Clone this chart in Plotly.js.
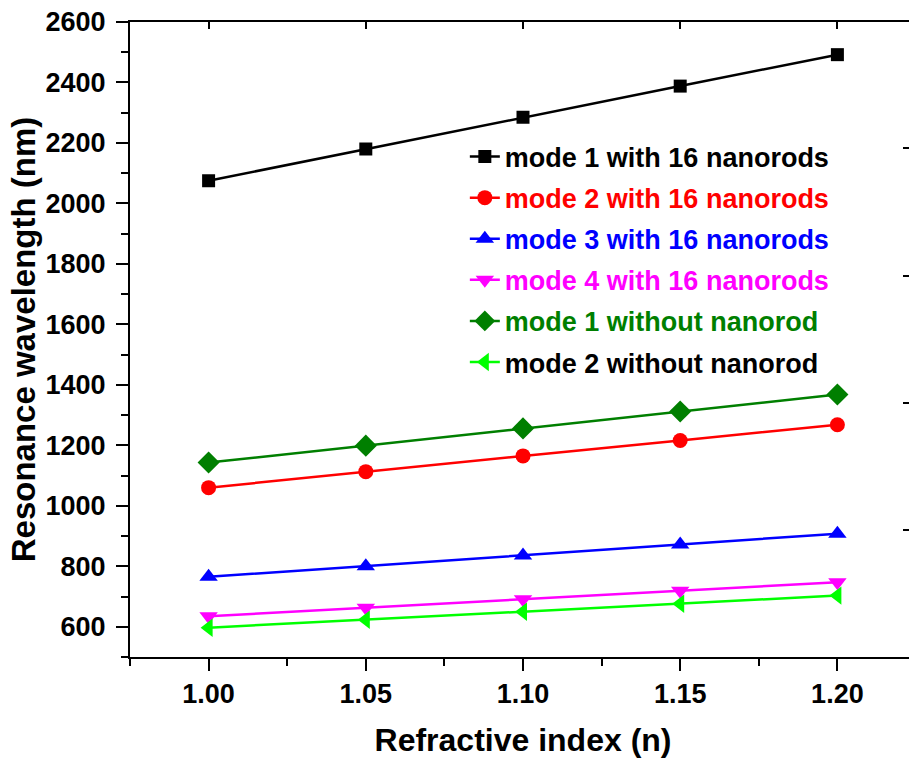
<!DOCTYPE html>
<html>
<head>
<meta charset="utf-8">
<script src="https://cdn.plot.ly/plotly-3.0.1.min.js"></script>
<style>
html,body{margin:0;padding:0;overflow:hidden;background:#fff;}
#chart{width:920px;height:758px;}
</style>
</head>
<body>
<div id="chart"></div>
<script>
// Refractive index values (x)
const refractiveIndex = [1.00, 1.05, 1.10, 1.15, 1.20];

// Resonance wavelengths (nm)
const mode1With16 = [2075, 2180, 2285, 2388, 2492];
const mode2With16 = [1060, 1113, 1165, 1216, 1268];
const mode3With16 = [765, 800, 836, 872, 908];
const mode4With16 = [635, 663, 691, 719, 747];
const mode1Without = [1143, 1199, 1256, 1312, 1368];
const mode2Without = [597, 623, 650, 676, 703];

const seriesNames = [
  'mode 1 with 16 nanorods',
  'mode 2 with 16 nanorods',
  'mode 3 with 16 nanorods',
  'mode 4 with 16 nanorods',
  'mode 1 without nanorod',
  'mode 2 without nanorod'
];

// Right-axis tick spacing (in y units)
const rightTickStart = 919;
const rightTickStep = 421;

const seriesData = [mode1With16, mode2With16, mode3With16, mode4With16, mode1Without, mode2Without];
const lineColors = ['#000000', '#ff0000', '#0000ff', '#ff00ff', '#007f00', '#00ff00'];
const labelColors = ['#000000', '#ff0000', '#0000ff', '#ff00ff', '#007f00', '#000000'];
const symbols = ['square', 'circle', 'triangle-up', 'triangle-down', 'diamond', 'triangle-left'];
const sizes = [13, 15, 16, 16, 17, 16];

const FONT = 'Liberation Sans, Arial, Helvetica, sans-serif';

const traces = seriesData.map((ys, i) => ({
  type: 'scatter',
  mode: 'lines+markers',
  x: refractiveIndex,
  y: ys,
  name: '<span style="color:' + labelColors[i] + '">' + seriesNames[i] + '</span>',
  legendgroup: 'g' + i,
  line: {color: lineColors[i], width: 2.5},
  marker: {symbol: symbols[i], size: sizes[i], color: lineColors[i], line: {width: 0}},
  xaxis: 'x',
  yaxis: 'y'
}));

// invisible helper trace for the mirrored axes
traces.push({
  type: 'scatter', mode: 'markers', x: [refractiveIndex[0]], y: [mode1With16[0]],
  xaxis: 'x2', yaxis: 'y2', showlegend: false, hoverinfo: 'skip',
  marker: {opacity: 0}
});

const layout = {
  width: 920,
  height: 758,
  margin: {l: 130, r: 4, t: 22, b: 101},
  paper_bgcolor: '#ffffff',
  plot_bgcolor: '#ffffff',
  font: {family: FONT, color: '#000', weight: 'bold'},
  showlegend: true,
  legend: {
    x: 0.426, y: 0.826, xanchor: 'left', yanchor: 'top',
    bgcolor: 'rgba(255,255,255,0)',
    borderwidth: 0,
    font: {family: FONT, size: 27, weight: 'bold', color: '#000'},
    traceorder: 'grouped',
    tracegroupgap: 3,
    itemwidth: 30
  },
  xaxis: {
    range: [0.975, 1.225],
    tickvals: refractiveIndex,
    ticktext: refractiveIndex.map(v => v.toFixed(2)),
    ticks: 'outside', ticklen: 12, tickwidth: 2, tickcolor: '#000',
    minor: {dtick: 0.05, tick0: 0.975, ticks: 'outside', ticklen: 7, tickwidth: 2, tickcolor: '#000'},
    showline: true, linewidth: 2, linecolor: '#000',
    showgrid: false, zeroline: false,
    tickfont: {family: FONT, size: 27, weight: 'bold'},
    title: {text: 'Refractive index (n)', font: {family: FONT, size: 32, weight: 'bold'}, standoff: 20}
  },
  yaxis: {
    range: [500, 2600],
    dtick: 200, tick0: 600,
    ticks: 'outside', ticklen: 12, tickwidth: 2, tickcolor: '#000',
    minor: {dtick: 200, tick0: 500, ticks: 'outside', ticklen: 7, tickwidth: 2, tickcolor: '#000'},
    showline: true, linewidth: 2, linecolor: '#000',
    showgrid: false, zeroline: false,
    tickfont: {family: FONT, size: 27, weight: 'bold'},
    ticklabelstandoff: 5,
    title: {text: 'Resonance wavelength (nm)', font: {family: FONT, size: 33, weight: 'bold'}, standoff: 0}
  },
  xaxis2: {
    overlaying: 'x', side: 'top', matches: 'x', anchor: 'y',
    range: [0.975, 1.225],
    tickvals: refractiveIndex,
    ticks: 'inside', ticklen: 7, tickwidth: 2, tickcolor: '#000',
    showticklabels: false, showline: true, linewidth: 2, linecolor: '#000',
    showgrid: false, zeroline: false
  },
  yaxis2: {
    overlaying: 'y', side: 'right', anchor: 'x',
    range: [500, 2600], autorange: false,
    tickmode: 'linear', tick0: rightTickStart, dtick: rightTickStep,
    ticks: 'inside', ticklen: 13, tickwidth: 2, tickcolor: '#000',
    showticklabels: false, showline: true, linewidth: 2, linecolor: '#000',
    showgrid: false, zeroline: false
  }
};

Plotly.newPlot('chart', traces, layout, {displayModeBar: false, staticPlot: true});
</script>
</body>
</html>
